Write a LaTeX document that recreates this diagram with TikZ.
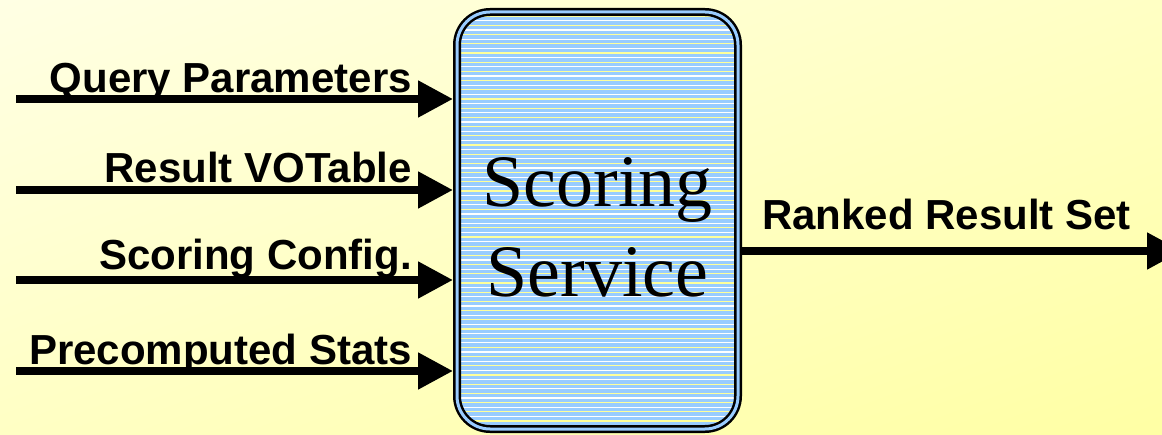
\documentclass[tikz,border=0pt]{standalone}
\usepackage{fontspec}
\newfontfamily\sansfam{Liberation Sans}
\newfontfamily\seriffam{Liberation Serif}
\usetikzlibrary{arrows.meta,shadings}
\definecolor{bgA}{HTML}{FFFFE4}
\definecolor{bgB}{HTML}{FFFFA4}
\definecolor{bgM}{HTML}{FFFFC4}
\definecolor{boxblue}{HTML}{99CCFF}
\definecolor{stripeY}{HTML}{FFFF99}
\begin{document}
\begin{tikzpicture}[x=1pt,y=-1pt,
  arr/.style={line width=8pt,-{Triangle[length=35pt,width=35pt]}},
  lbl/.style={font=\fontsize{42}{50}\selectfont\sansfam\bfseries,anchor=base east,inner sep=0pt},
  svcbox/.style={rounded corners=33pt,minimum width=281pt,minimum height=417pt,inner sep=0pt,
    outer sep=4pt,draw=black,line width=2.5pt,double=boxblue,double distance=3pt,fill=boxblue,
    path picture={
      \foreach \i in {0,...,48}{
        \fill[stripeY,sharp corners] ([shift={(-160,-214+\i*9.2)}]path picture bounding box.center) rectangle ++(320,1.1);
        \fill[white,sharp corners] ([shift={(-160,-209.4+\i*9.2)}]path picture bounding box.center) rectangle ++(320,1.1);
      }}},
  svctext/.style={font=\fontsize{74}{90}\selectfont\seriffam,align=center,inner sep=0pt}]
\useasboundingbox (0,0) rectangle (1162,435);
\clip (0,0) rectangle (1162,435);
\shade[upper left=bgA,lower right=bgB,upper right=bgM,lower left=bgM] (0,0) rectangle (1162,435);

\node[svcbox] (svc) at (597.5,220.5) {};
\node[svctext] (svct) at (597.5,227.5) {Scoring\\Service};

\node[lbl] (lq) at (412,93) {Query Parameters};
\node[lbl] (lr) at (412,183) {Result VOTable};
\node[lbl] (ls) at (412,270) {Scoring Config.};
\node[lbl] (lp) at (412,365) {Precomputed Stats};
\node[lbl,anchor=base west] (lo) at (762,230) {Ranked Result Set};

\coordinate (sq) at (16,99);
\coordinate (sr) at (16,190);
\coordinate (ss) at (16,280);
\coordinate (sp) at (16,371);
\coordinate (oe) at (1182,251);

\draw[arr] (sq) -- (sq -| svc.west);
\draw[arr] (sr) -- (sr -| svc.west);
\draw[arr] (ss) -- (ss -| svc.west);
\draw[arr] (sp) -- (sp -| svc.west);
\draw[arr] (svc.east |- oe) -- (oe);
\end{tikzpicture}
\end{document}
